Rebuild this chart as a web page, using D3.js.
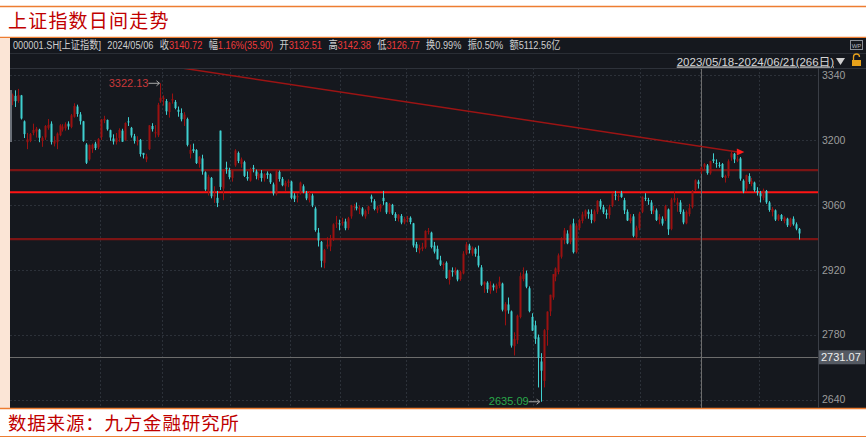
<!DOCTYPE html>
<html><head><meta charset="utf-8">
<script src="https://cdn.jsdelivr.net/npm/d3@7"></script>
<style>html,body{margin:0;padding:0;background:#fff;}svg{display:block;}</style>
</head><body>
<svg id="c" width="866" height="441"></svg>
<script>
// ---------------- data ----------------
const title = "上证指数日间走势";
const source = "数据来源：九方金融研究所";
const rangeLabel = "2023/05/18-2024/06/21(266日)";
const headerLabels = ["000001.SH[上证指数]", "2024/05/06", "收", "幅", "开", "高", "低", "换", "振", "额"];
const headerValues = ["", "", "3140.72", "1.16%(35.90)", "3132.51", "3142.38", "3126.77", "0.99%", "0.50%", "5112.56亿"];
const yTicks = [2640, 2780, 2920, 3060, 3200, 3340];
const monthStartIdx = [30, 51, 74, 94, 111, 133, 154, 176, 191, 212, 232, 252];
const levelDark = [3135, 2986];
const levelBright = [3087];
const lastLevel = 2731.07;
const crossIdx = 232;
const highIdx = 50, highVal = 3322.13;
const lowIdx = 178, lowVal = 2635.09;
const trendIdx = [57.2, 244.4];
const trendVal = [3355, 3174];

const open = [
3283,3295,3284,3296,3240,3195,3198,3215,3218,3222,
3198,3205,3226,3235,3192,3195,3210,3222,3225,3235,
3228,3250,3272,3255,3240,3190,3158,3180,3192,3184,
3206,3242,3243,3221,3203,3195,3204,3220,3200,3240,
3226,3208,3196,3200,3172,3158,3180,3230,3214,3210,
3283,3288,3284,3260,3285,3282,3265,3258,3245,3245,
3170,3180,3178,3148,3160,3130,3090,3118,3078,3075,
3220,3095,3140,3135,3118,3145,3172,3148,3152,3120,
3112,3140,3132,3118,3128,3117,3128,3126,3104,3083,
3131,3116,3100,3107,3110,3080,3076,3085,3100,3085,
3070,3080,3052,3000,2980,2935,2970,2970,2985,3020,
3020,3020,3024,3010,3035,3055,3056,3050,3052,3035,
3048,3078,3068,3048,3052,3075,3065,3044,3060,3040,
3030,3036,3022,3030,3032,3020,2975,2962,2965,2968,
3003,3000,2972,2965,2940,2930,2935,2898,2918,2912,
2918,2900,2912,2955,2972,2955,2965,2950,2925,2888,
2892,2875,2886,2878,2885,2890,2830,2845,2830,2755,
2768,2818,2900,2912,2880,2818,2800,2774,2722,2680,
2790,2830,2860,2905,2915,2948,2985,2998,2980,3020,
2958,3010,3025,3035,3045,3040,3025,3045,3068,3055,
3042,3038,3058,3082,3078,3085,3070,3045,3025,3035,
2990,3010,3045,3075,3070,3065,3045,3048,3028,3030,
3030,3050,3008,3070,3060,3065,3045,3020,3040,3055,
3092,3110,3132.51,3142,3145,3128,3158,3150,3146,3148,
3118,3122,3162,3170,3155,3160,3112,3095,3122,3105,
3108,3090,3085,3075,3090,3065,3045,3048,3028,3038,
3025,3030,3015,3030,3018,3008];
const high = [
3300,3307,3310,3297,3242,3215,3215,3235,3228,3224,
3208,3232,3245,3240,3208,3216,3234,3234,3238,3240,
3256,3279,3276,3260,3241,3193,3190,3192,3196,3204,
3245,3252,3244,3222,3212,3215,3225,3224,3238,3249,
3228,3213,3208,3202,3172,3170,3232,3236,3232,3280,
3322.13,3296,3288,3282,3300,3286,3272,3268,3260,3248,
3190,3192,3180,3165,3168,3132,3125,3120,3100,3090,
3220,3136,3153,3140,3135,3180,3175,3162,3155,3132,
3140,3146,3136,3130,3135,3128,3132,3128,3108,3135,
3134,3120,3112,3115,3112,3085,3085,3110,3104,3090,
3088,3084,3056,3010,2982,2965,2990,2995,3020,3036,
3028,3032,3030,3034,3060,3062,3065,3058,3055,3050,
3058,3082,3072,3058,3062,3090,3066,3064,3062,3044,
3040,3040,3034,3036,3035,3021,2980,2974,2978,3005,
3010,3002,2980,2972,2950,2936,2938,2920,2925,2925,
2920,2918,2960,2980,2976,2970,2968,2972,2930,2895,
2895,2895,2890,2890,2905,2892,2850,2860,2832,2785,
2823,2914,2925,2918,2884,2826,2810,2780,2740,2792,
2830,2866,2910,2925,2955,2990,3010,3005,3018,3030,
3020,3030,3045,3050,3050,3050,3050,3070,3072,3060,
3050,3060,3086,3090,3083,3090,3075,3050,3040,3040,
3015,3045,3078,3085,3075,3070,3058,3052,3040,3035,
3060,3052,3075,3090,3075,3070,3050,3048,3062,3092,
3115,3114,3142.38,3150,3148,3155,3171,3158,3152,3150,
3125,3158,3174.27,3172,3165,3163,3115,3125,3128,3118,
3110,3098,3090,3095,3092,3068,3055,3050,3040,3040,
3035,3032,3032,3035,3022,3010];
const low = [
3275,3271,3280,3244,3204,3180,3195,3210,3205,3195,
3185,3200,3222,3190,3186,3180,3208,3218,3220,3222,
3225,3248,3250,3233,3196,3148,3155,3172,3178,3180,
3200,3236,3220,3198,3190,3190,3196,3196,3198,3230,
3205,3192,3188,3164,3160,3152,3178,3218,3205,3206,
3280,3274,3254,3248,3278,3266,3250,3240,3230,3186,
3160,3172,3148,3140,3125,3090,3080,3074,3064,3055,
3092,3070,3127,3115,3110,3142,3150,3140,3120,3112,
3110,3130,3115,3113,3110,3110,3116,3105,3080,3080,
3110,3100,3090,3098,3072,3066,3065,3082,3085,3070,
3065,3055,3002,2970,2925,2923,2965,2960,2982,3010,
3005,3015,3005,3006,3030,3048,3048,3040,3035,3030,
3040,3065,3048,3042,3045,3060,3040,3040,3038,3025,
3024,3018,3018,3022,3018,2968,2958,2955,2960,2965,
2996,2966,2955,2942,2928,2920,2900,2888,2905,2908,
2895,2896,2910,2952,2955,2950,2948,2925,2885,2870,
2870,2868,2875,2870,2880,2830,2800,2825,2752,2735,
2760,2815,2895,2880,2828,2788,2760,2666,2635.09,2666,
2756,2820,2855,2895,2910,2944,2975,2975,2975,2955,
2955,3005,3020,3030,3030,3020,3022,3040,3050,3040,
3030,3030,3055,3070,3068,3075,3040,3025,3020,2990,
2985,3005,3042,3068,3060,3040,3040,3025,3018,3015,
3025,2995,3005,3065,3045,3040,3018,3018,3035,3052,
3090,3095,3126.77,3135,3125,3125,3150,3140,3140,3118,
3108,3118,3155,3150,3152,3112,3085,3090,3105,3100,
3088,3080,3065,3070,3062,3045,3035,3025,3025,3025,
3020,3012,3012,3015,3005,2985];
const close = [
3297.32,3283.54,3296.47,3246.24,3212.50,3201.26,3212.50,3221.45,3224.21,3204.56,
3204.63,3230.07,3232.44,3195.34,3197.76,3213.59,3231.41,3228.83,3233.67,3228.99,
3252.98,3273.33,3255.81,3240.36,3197.90,3150.62,3189.38,3189.44,3182.38,3202.06,
3243.98,3245.35,3222.95,3205.23,3196.61,3203.70,3221.37,3196.13,3236.48,3237.70,
3209.63,3197.82,3198.84,3169.52,3167.75,3164.16,3231.52,3223.13,3216.67,3275.93,
3291.04,3290.95,3261.69,3280.46,3288.08,3268.83,3260.62,3244.49,3254.56,3189.25,
3178.43,3176.18,3150.13,3163.74,3131.95,3092.98,3120.33,3078.40,3082.24,3064.07,
3098.64,3135.89,3137.14,3119.88,3133.25,3177.06,3154.37,3158.08,3122.35,3116.72,
3137.06,3137.23,3122.40,3126.55,3117.74,3125.93,3124.25,3108.57,3084.70,3132.43,
3115.61,3102.27,3107.32,3110.48,3075.24,3072.83,3078.96,3107.90,3088.10,3073.81,
3083.50,3058.71,3005.39,2983.06,2939.29,2962.24,2974.11,2988.30,3017.78,3021.55,
3018.77,3023.08,3009.41,3030.80,3058.41,3057.27,3052.37,3053.28,3038.97,3046.53,
3056.07,3072.83,3050.93,3054.37,3060.00,3068.00,3043.61,3061.86,3040.97,3031.70,
3038.55,3021.69,3029.67,3031.64,3022.91,2972.30,2966.21,2967.00,2969.56,3003.45,
3003.65,2968.93,2958.99,2942.56,2930.80,2932.39,2902.11,2918.72,2914.78,2918.81,
2898.83,2914.61,2954.70,2974.93,2962.28,2967.25,2954.35,2929.18,2887.54,2893.25,
2877.70,2886.65,2881.98,2886.29,2893.99,2833.62,2845.78,2832.28,2756.34,2770.98,
2820.77,2906.11,2910.22,2883.36,2830.53,2788.55,2770.74,2730.15,2702.19,2789.49,
2829.70,2865.90,2910.54,2922.73,2950.96,2988.36,3004.88,2977.02,3015.48,2957.85,
3015.17,3027.02,3039.31,3047.79,3039.93,3027.40,3046.02,3068.46,3055.94,3043.83,
3038.23,3054.64,3084.93,3079.69,3079.11,3077.11,3048.03,3026.31,3031.48,2993.14,
3010.66,3041.17,3077.38,3074.96,3069.30,3047.05,3048.54,3027.34,3034.25,3019.47,
3057.38,3007.07,3071.38,3074.22,3065.26,3044.60,3021.98,3044.82,3052.90,3088.64,
3113.04,3104.82,3140.72,3147.74,3128.48,3154.32,3154.55,3148.02,3145.77,3119.90,
3122.40,3154.03,3171.15,3157.97,3158.54,3116.39,3088.87,3124.04,3109.57,3111.02,
3091.68,3086.81,3078.49,3091.20,3065.40,3048.79,3051.28,3028.05,3037.47,3028.92,
3032.63,3015.89,3030.25,3018.05,3008.48,2998.14];

// ---------------- layout ----------------
const W = 866, H = 441;
const N = close.length;
const svg = d3.select("#c");
const FONT = "'Liberation Sans', Arial, 'Noto Sans CJK SC', sans-serif";
const CJK = "'Noto Sans CJK SC', sans-serif";
const orange = "#ED7D31";
const up = "#9b1111", down = "#3fcfcf";

const panel = {top: 38, bottom: 408, left: 10, right: 866};
const plot = {top: 68, bottom: 408, left: 10, right: 818};

svg.append("rect").attr("width", W).attr("height", H).attr("fill", "#fff");
svg.append("line").attr("x1", 0).attr("x2", W).attr("y1", 6.5).attr("y2", 6.5).attr("stroke", orange).attr("stroke-width", 1.3);
svg.append("text").attr("x", 8).attr("y", 28).attr("font-family", CJK).attr("font-size", 19).attr("fill", "#c00000").attr("letter-spacing", 1.2).text(title);
svg.append("line").attr("x1", 0).attr("x2", W).attr("y1", 37.5).attr("y2", 37.5).attr("stroke", orange).attr("stroke-width", 1.5);

svg.append("rect").attr("x", 0).attr("y", panel.top).attr("width", 10).attr("height", panel.bottom - panel.top).attr("fill", "#fbe5d6");
svg.append("rect").attr("x", panel.left).attr("y", panel.top).attr("width", panel.right - panel.left).attr("height", panel.bottom - panel.top).attr("fill", "#15181e");
svg.append("line").attr("x1", panel.left).attr("x2", W).attr("y1", 53.5).attr("y2", 53.5).attr("stroke", "#2a2e35");
svg.append("line").attr("x1", panel.left).attr("x2", W).attr("y1", 68.5).attr("y2", 68.5).attr("stroke", "#2e323a");

svg.append("line").attr("x1", 0).attr("x2", W).attr("y1", 408.5).attr("y2", 408.5).attr("stroke", orange).attr("stroke-width", 1.5);
svg.append("text").attr("x", 8).attr("y", 430).attr("font-family", CJK).attr("font-size", 18.5).attr("fill", "#c00000").attr("letter-spacing", 0.8).text(source);
svg.append("line").attr("x1", 0).attr("x2", W).attr("y1", 436.5).attr("y2", 436.5).attr("stroke", orange).attr("stroke-width", 1.2);

// header row 1: natural text, horizontally condensed as a group to the reference width
const hdrG = svg.append("g");
const hdr = hdrG.append("text").attr("x", 0).attr("y", 49.5).attr("font-family", FONT).attr("font-size", 11.5);
headerLabels.forEach((lab, k) => {
  hdr.append("tspan").attr("dx", k === 0 ? 0 : 8).attr("fill", "#cfcfcf").text(lab);
  if (headerValues[k]) hdr.append("tspan").attr("fill", (k >= 2 && k <= 6) ? "#f03a3a" : "#cfcfcf").text(headerValues[k]);
});
const hw = hdr.node().getComputedTextLength() + 8 * (headerLabels.length - 1);
hdrG.attr("transform", `translate(13,0) scale(${Math.min(1, 548 / hw)},1)`);

svg.append("text").attr("x", 834).attr("y", 65.5).attr("text-anchor", "end").attr("font-family", FONT).attr("font-size", 11.5)
  .attr("fill", "#d6d6d6").attr("text-decoration", "underline").text(rangeLabel);
svg.append("path").attr("d", "M836,58 L845,58 L840.5,65 Z").attr("fill", "#cfcfcf");
svg.append("path").attr("d", "M853.5,60 v-3 a3,3 0 0 1 6,0").attr("fill", "none").attr("stroke", "#e6a11a").attr("stroke-width", 1.3);
svg.append("rect").attr("x", 852).attr("y", 60).attr("width", 9).attr("height", 6).attr("fill", "#e6a11a");
svg.append("rect").attr("x", 850.5).attr("y", 40.5).attr("width", 12).attr("height", 9).attr("fill", "none").attr("stroke", "#8a8f96");
svg.append("text").attr("x", 856.5).attr("y", 47.5).attr("text-anchor", "middle").attr("font-family", FONT).attr("font-size", 6).attr("fill", "#b0b4ba").text("WP");

// ---------------- scales ----------------
const x = d3.scaleBand().domain(d3.range(N)).range([10.5, 800.5]).paddingInner(0);
const bw = x.bandwidth();
const xc = d3.scaleLinear().domain([0, N - 1]).range([x(0) + bw / 2, x(N - 1) + bw / 2]);
const y = d3.scaleLinear().domain([2640, 3340]).range([399.5, 75]);

svg.append("defs").append("clipPath").attr("id", "pc").append("rect")
  .attr("x", plot.left).attr("y", plot.top + 1).attr("width", plot.right - plot.left).attr("height", plot.bottom - plot.top - 1);
const g = svg.append("g").attr("clip-path", "url(#pc)");

g.selectAll(".hg").data(yTicks).join("line")
  .attr("x1", plot.left).attr("x2", plot.right)
  .attr("y1", d => Math.round(y(d)) + 0.5).attr("y2", d => Math.round(y(d)) + 0.5)
  .attr("stroke", "#2c3139").attr("stroke-dasharray", "2,2");
g.selectAll(".vg").data(monthStartIdx).join("line")
  .attr("x1", d => Math.round(xc(d) - bw / 2) + 0.5).attr("x2", d => Math.round(xc(d) - bw / 2) + 0.5)
  .attr("y1", plot.top).attr("y2", plot.bottom)
  .attr("stroke", "#2c3139").attr("stroke-dasharray", "2,2");

svg.append("rect").attr("x", 10).attr("y", 90).attr("width", 2).attr("height", 52).attr("fill", "#6a6f77");

g.selectAll(".ld").data(levelDark).join("line")
  .attr("x1", plot.left).attr("x2", plot.right).attr("y1", d => y(d)).attr("y2", d => y(d))
  .attr("stroke", "#7c1414").attr("stroke-width", 2.2);
g.selectAll(".lb").data(levelBright).join("line")
  .attr("x1", plot.left).attr("x2", plot.right).attr("y1", d => y(d)).attr("y2", d => y(d))
  .attr("stroke", "#ff1414").attr("stroke-width", 2);
g.append("line").attr("x1", plot.left).attr("x2", plot.right)
  .attr("y1", Math.round(y(lastLevel)) + 0.5).attr("y2", Math.round(y(lastLevel)) + 0.5)
  .attr("stroke", "#6c6c6c").attr("stroke-width", 1);
g.append("line").attr("x1", Math.round(xc(crossIdx)) + 0.5).attr("x2", Math.round(xc(crossIdx)) + 0.5)
  .attr("y1", plot.top).attr("y2", plot.bottom).attr("stroke", "#6c6c6c").attr("stroke-width", 1);

const idx = d3.range(N);
const col = i => close[i] >= open[i] ? up : down;
g.selectAll(".wick").data(idx).join("line")
  .attr("x1", i => Math.round(xc(i)) + 0.5).attr("x2", i => Math.round(xc(i)) + 0.5)
  .attr("y1", i => y(Math.max(high[i], open[i], close[i]))).attr("y2", i => y(Math.min(low[i], open[i], close[i])))
  .attr("stroke", col).attr("stroke-width", 1);
g.selectAll(".body").data(idx).join("rect")
  .attr("x", i => Math.round(xc(i)) - 0.5).attr("width", 2)
  .attr("y", i => y(Math.max(open[i], close[i])))
  .attr("height", i => Math.max(1, Math.abs(y(open[i]) - y(close[i]))))
  .attr("fill", col);

const tx = trendIdx.map(d => xc(d)), ty = trendVal.map(d => y(d));
g.append("line").attr("x1", tx[0]).attr("y1", ty[0]).attr("x2", tx[1]).attr("y2", ty[1])
  .attr("stroke", "#9c1414").attr("stroke-width", 1.5);
g.append("path").attr("d", `M${tx[1] - 1},${ty[1] - 3.5} L${tx[1] - 1},${ty[1] + 3.5} L${tx[1] + 6.5},${ty[1]} Z`).attr("fill", "#ff1c1c");

const hx = xc(highIdx), hy = y(highVal);
svg.append("text").attr("x", hx - 12).attr("y", hy + 4).attr("text-anchor", "end").attr("font-family", FONT).attr("font-size", 11).attr("fill", "#c8383a").text(highVal.toFixed(2));
svg.append("path").attr("d", `M${hx - 12},${hy} H${hx - 1} M${hx - 4},${hy - 2.5} L${hx - 1},${hy} L${hx - 4},${hy + 2.5}`).attr("stroke", "#a8a8a8").attr("fill", "none");
const lx = xc(lowIdx), ly = y(lowVal);
svg.append("text").attr("x", lx - 12).attr("y", ly + 3).attr("text-anchor", "end").attr("font-family", FONT).attr("font-size", 11).attr("fill", "#2aa84a").text(lowVal.toFixed(2));
svg.append("path").attr("d", `M${lx - 12},${ly} H${lx - 1} M${lx - 4},${ly - 2.5} L${lx - 1},${ly} L${lx - 4},${ly + 2.5}`).attr("stroke", "#a8a8a8").attr("fill", "none");

svg.append("line").attr("x1", plot.right + 0.5).attr("x2", plot.right + 0.5).attr("y1", plot.top).attr("y2", plot.bottom).attr("stroke", "#3a3e46");
const ax = svg.append("g").attr("transform", `translate(${plot.right},0)`)
  .call(d3.axisRight(y).tickValues(yTicks).tickSize(0).tickPadding(4).tickFormat(d3.format("d")));
ax.select(".domain").remove();
ax.selectAll("text").attr("font-family", FONT).attr("font-size", 10.5).attr("fill", "#9c9c9c");
const ly2 = y(lastLevel);
svg.append("rect").attr("x", 819).attr("y", ly2 - 7).attr("width", 46).attr("height", 14).attr("fill", "#555a63");
svg.append("text").attr("x", 821).attr("y", ly2 + 4).attr("font-family", FONT).attr("font-size", 11).attr("fill", "#eeeeee").text(lastLevel.toFixed(2));
</script>
</body></html>
